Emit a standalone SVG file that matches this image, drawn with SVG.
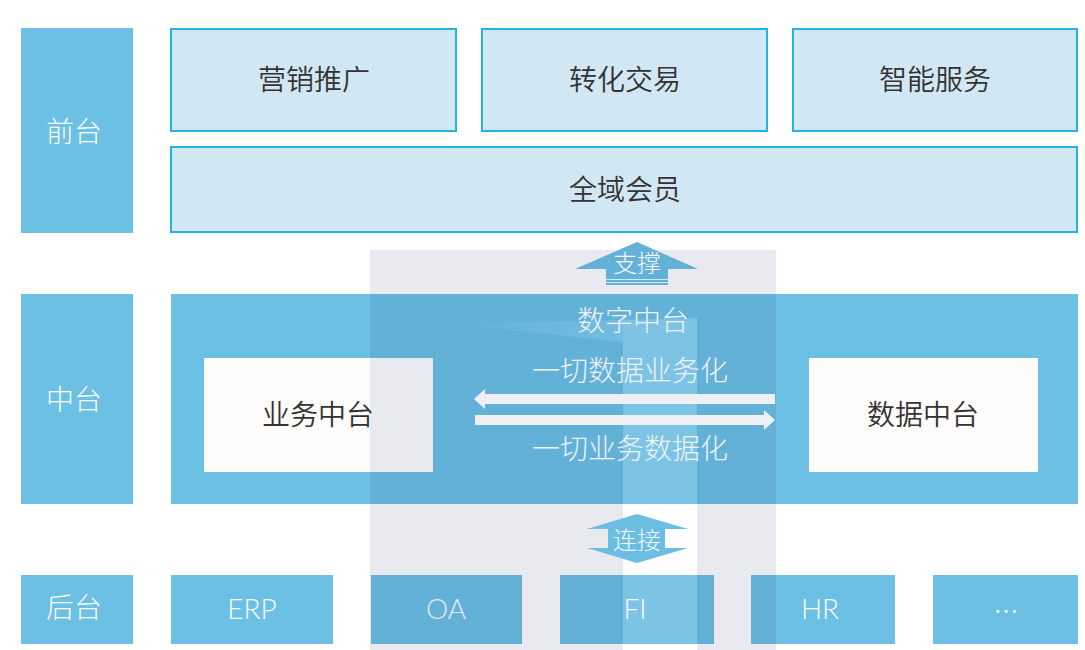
<svg xmlns="http://www.w3.org/2000/svg" width="1085" height="650" viewBox="0 0 1085 650">
  <style>
    .lbl { font-family: "Noto Sans CJK SC", "Noto Sans", sans-serif; font-weight: 300; font-size: 28px; text-anchor: middle; }
    .dark { fill: #333333; font-weight: 350; }
    .white { fill: #FAFCFE; }
    .lat { font-family: Lato, "Open Sans", "Noto Sans", sans-serif; font-weight: 300; font-size: 28px; text-anchor: middle; fill: #F7FBFE; }
    .top { fill: #D1E8F4; stroke: #22B5E2; stroke-width: 2; }
    .side { fill: #6CC0E3; }
    .hz { fill: #EEF0F6; }
  </style>
  <defs>
    <linearGradient id="blueOv" gradientUnits="userSpaceOnUse" x1="0" y1="0" x2="1085" y2="0">
      <stop offset="0" stop-color="#6CC0E3"/>
      <stop offset="0.341" stop-color="#6CC0E3"/>
      <stop offset="0.341" stop-color="#64B1D8"/>
      <stop offset="0.574" stop-color="#64B1D8"/>
      <stop offset="0.574" stop-color="#7DC4E4"/>
      <stop offset="0.642" stop-color="#7DC4E4"/>
      <stop offset="0.642" stop-color="#64B1D8"/>
      <stop offset="0.715" stop-color="#64B1D8"/>
      <stop offset="0.715" stop-color="#6CC0E3"/>
      <stop offset="1" stop-color="#6CC0E3"/>
    </linearGradient>
    <linearGradient id="blueMid" gradientUnits="userSpaceOnUse" x1="0" y1="0" x2="1085" y2="0">
      <stop offset="0" stop-color="#6CC0E3"/>
      <stop offset="0.341" stop-color="#6CC0E3"/>
      <stop offset="0.341" stop-color="#64B1D8"/>
      <stop offset="0.715" stop-color="#64B1D8"/>
      <stop offset="0.715" stop-color="#6CC0E3"/>
      <stop offset="1" stop-color="#6CC0E3"/>
    </linearGradient>
    <linearGradient id="whiteOv" gradientUnits="userSpaceOnUse" x1="0" y1="0" x2="1085" y2="0">
      <stop offset="0" stop-color="#FDFCFB"/>
      <stop offset="0.341" stop-color="#FDFCFB"/>
      <stop offset="0.341" stop-color="#E9E9F0"/>
      <stop offset="1" stop-color="#E9E9F0"/>
    </linearGradient>
    <linearGradient id="stripFade" x1="0" y1="0" x2="0" y2="1">
      <stop offset="0" stop-color="#FFFFFF" stop-opacity="0"/>
      <stop offset="0.12" stop-color="#FFFFFF" stop-opacity="1"/>
      <stop offset="1" stop-color="#FFFFFF" stop-opacity="1"/>
    </linearGradient>
    <linearGradient id="beam" x1="0" y1="0" x2="1" y2="0">
      <stop offset="0" stop-color="#7DC4E4" stop-opacity="0"/>
      <stop offset="1" stop-color="#7DC4E4" stop-opacity="0.9"/>
    </linearGradient>
  </defs>

  <rect x="0" y="0" width="1085" height="650" fill="#FFFFFF"/>

  <!-- translucent backdrop -->
  <g id="backdrop">
    <rect x="370" y="250" width="406" height="400" fill="#E9E9F0"/>
    <rect x="623" y="300" width="74" height="350" fill="url(#stripFade)"/>
  </g>

  <!-- 前台 -->
  <g id="qiantai">
    <rect class="side" x="21" y="28" width="112" height="205"/>
    <text class="lbl white" x="74" y="142">前台</text>
  </g>
  <g id="yingxiao">
    <rect class="top" x="171" y="29" width="285" height="102"/>
    <text class="lbl dark" x="314" y="90">营销推广</text>
  </g>
  <g id="zhuanhua">
    <rect class="top" x="482" y="29" width="285" height="102"/>
    <text class="lbl dark" x="625" y="90">转化交易</text>
  </g>
  <g id="zhineng">
    <rect class="top" x="793" y="29" width="284" height="102"/>
    <text class="lbl dark" x="935" y="90">智能服务</text>
  </g>
  <g id="quanyu">
    <rect class="top" x="171" y="147" width="906" height="85"/>
    <text class="lbl dark" x="625" y="200">全域会员</text>
  </g>

  <!-- 中台 -->
  <g id="zhongtai">
    <rect class="side" x="21" y="294" width="112" height="210"/>
    <text class="lbl white" x="74" y="410">中台</text>
  </g>
  <g id="shuzi-zhongtai">
    <rect x="171" y="294" width="907" height="210" fill="url(#blueMid)"/>
    <rect x="623" y="320" width="74" height="184" fill="#7DC4E4"/>
    <polygon points="455,324 697,318 697,350" fill="url(#beam)"/>
    <text class="lbl" x="633" y="331" fill="#EEF3F8">数字中台</text>
    <text class="lbl" x="630" y="381" fill="#EEF3F8">一切数据业务化</text>
    <text class="lbl" x="630" y="459" fill="#EEF3F8">一切业务数据化</text>
  </g>
  <g id="yewu-zhongtai">
    <rect x="204" y="358" width="229" height="114" fill="url(#whiteOv)"/>
    <text class="lbl dark" x="318" y="425">业务中台</text>
  </g>
  <g id="shuju-zhongtai">
    <rect x="809" y="358" width="229" height="114" fill="#FDFCFB"/>
    <text class="lbl dark" x="923" y="425">数据中台</text>
  </g>

  <!-- 后台 -->
  <g id="houtai">
    <rect class="side" x="21" y="575" width="112" height="69"/>
    <text class="lbl white" x="74" y="618">后台</text>
  </g>
  <g id="erp">
    <rect x="171" y="575" width="162" height="69" fill="url(#blueOv)"/>
    <text class="lat" x="252" y="619">ERP</text>
  </g>
  <g id="oa">
    <rect x="371" y="575" width="151" height="69" fill="url(#blueOv)"/>
    <text class="lat" x="446" y="619" style="fill:#E4E9F1">OA</text>
  </g>
  <g id="fi">
    <rect x="560" y="575" width="154" height="69" fill="url(#blueOv)"/>
    <text class="lat" x="635" y="619">FI</text>
  </g>
  <g id="hr">
    <rect x="751" y="575" width="144" height="69" fill="url(#blueOv)"/>
    <text class="lat" x="820" y="619">HR</text>
  </g>
  <g id="more">
    <rect class="side" x="933" y="575" width="145" height="69"/>
    <text class="lat" x="1006" y="613" style="font-size:34px">…</text>
  </g>

  <!-- connectors -->
  <g id="connectors">
    <g id="zhicheng">
      <polygon points="637,242 698,269 668,269 668,285 606,285 606,269 575,269" fill="#64B1D8"/>
      <line x1="606" y1="279.5" x2="668" y2="279.5" stroke="#D6E9F4" stroke-width="1"/>
      <line x1="606" y1="282.5" x2="668" y2="282.5" stroke="#D6E9F4" stroke-width="1"/>
      <text class="lbl" x="637" y="272" style="font-size:24px" fill="#F4F8FC">支撑</text>
    </g>
    <polygon class="hz" points="474,399 485,389 485,394 775,394 775,404 485,404 485,409"/>
    <polygon class="hz" points="775,420 764,410 764,415 475,415 475,425 764,425 764,430"/>
    <g id="lianjie">
      <polygon points="637,514 688,529 665,529 665,548 688,548 637,563 587,548 608,548 608,529 587,529" fill="#6BBDE2"/>
      <text class="lbl" x="637" y="549" style="font-size:24px" fill="#F4F8FC">连接</text>
    </g>
  </g>
</svg>
